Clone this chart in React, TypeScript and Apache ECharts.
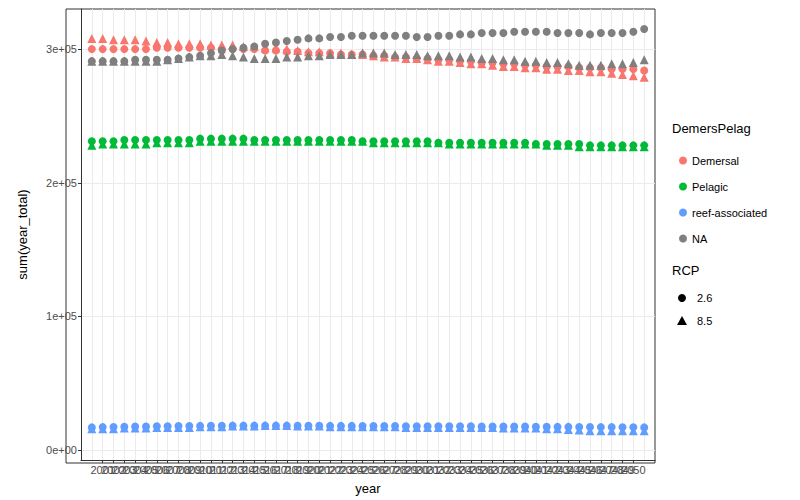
import React, { useRef, useEffect } from 'react';
import * as echarts from 'echarts';

const years: number[] = [];
for (let y = 2000; y <= 2051; y++) years.push(y);

// values in thousands
const demersal26 = [300,300,300,300,300,300,301,301,301,301, 301,301,300,300,300,300,299,299,298,298, 297,297,297,296,296,296,295,295,294,294, 293,293,292,292,291,291,290,290,289,289, 288,288,287,287,287,286,286,286,285,285, 285,284];
const demersal85 = [308,308,307,307,307,306,305,305,304,304, 304,303,303,303,302,302,301,301,300,299, 298,298,297,297,296,296,295,294,294,293, 293,292,291,291,290,289,289,288,287,287, 286,286,285,285,284,284,283,283,282,281, 280,279];
const pelagic26 = [231,231,231,232,232,232,232,232,232,232, 233,233,233,233,233,232,232,232,232,232, 232,232,232,232,232,231,231,231,231,231, 231,231,230,230,230,230,230,230,230,230, 230,229,229,229,229,229,228,228,228,228, 228,228];
const pelagic85 = [228,229,229,229,229,229,230,230,230,230, 231,231,231,231,231,231,231,231,231,231, 231,231,231,231,231,231,230,230,230,230, 230,230,230,229,229,229,229,229,229,229, 229,229,228,228,228,227,227,227,227,227, 227,227];
const reef26 = [17.0,17.2,17.3,17.5,17.6,17.7,17.8,17.9,18.0,18.0, 18.1,18.2,18.2,18.3,18.3,18.3,18.3,18.3,18.3,18.2, 18.2,18.2,18.1,18.1,18.1,18.0,18.0,18.0,18.0,17.9, 17.9,17.9,17.9,17.8,17.8,17.8,17.7,17.7,17.7,17.6, 17.6,17.5,17.5,17.4,17.4,17.3,17.3,17.2,17.2,17.1, 17.1,17.0];
const reef85 = [16,16,16,16.5,16.5,16.5,17,17,17,17, 17.5,17.5,17.5,18,18,18,18.5,18.5,18.5,18, 18,18,17.5,17.5,17.5,17.5,17.5,17.5,17.5,17, 17,17,17,17,17,17,17,17,16.5,16.5, 16.5,16.5,16,16,15.5,15,14.5,14.5,14.5,14.5, 14.5,14.5];
const na26 = [291,291,291,291,292,292,292,292,293,294, 295,297,299,300,301,302,304,305,306,307, 308,308,309,309,310,310,310,310,310,310, 309,309,310,310,311,311,312,312,312,313, 313,313,313,312,312,312,311,312,312,312, 313,315];
const na85 = [291,291,291,291,291,291,291,292,293,294, 295,295,296,295,294,293,293,293,294,294, 295,295,296,296,296,297,297,297,296,296, 296,295,295,295,294,294,293,293,292,292, 291,291,290,290,289,288,288,288,289,289, 290,292];

const groups = ['Demersal', 'Pelagic', 'reef-associated', 'NA'];
const colors = ['#F8766D', '#00BA38', '#619CFF', '#7F7F7F'];
const rcp26 = [demersal26, pelagic26, reef26, na26];
const rcp85 = [demersal85, pelagic85, reef85, na85];
const yTicks = [0, 100000, 200000, 300000];
const yTickLabels = ['0e+00', '1e+05', '2e+05', '3e+05'];

const FONT = 'Liberation Sans, Arial, sans-serif';

const App: React.FC = () => {
  const chartRef = useRef<HTMLDivElement>(null);

  useEffect(() => {
    if (!chartRef.current) return;
    const chart = echarts.init(chartRef.current, undefined, { renderer: 'svg' });
    const pts = (arr: number[]) => arr.map((v, i) => [years[i], v * 1000]);

    const series: any[] = [];
    groups.forEach((g, i) => {
      series.push({
        name: g, type: 'scatter', symbol: 'circle', symbolSize: 8,
        itemStyle: { color: colors[i], opacity: 1 }, data: pts(rcp26[i]),
      });
      series.push({
        name: g + ' 8.5', type: 'scatter', symbol: 'triangle', symbolSize: 9,
        itemStyle: { color: colors[i], opacity: 1 }, data: pts(rcp85[i]),
      });
    });

    chart.setOption({
      animation: false,
      textStyle: { fontFamily: FONT },
      grid: { left: 58, right: 145, top: 1, bottom: 37 },
      xAxis: {
        type: 'value', min: 1999, max: 2052, interval: 1,
        name: 'year', nameLocation: 'middle', nameGap: 22,
        nameTextStyle: { fontSize: 13, color: '#000' },
        axisLine: { onZero: false, lineStyle: { color: '#333' } },
        axisTick: { customValues: years, length: 3, lineStyle: { color: '#333' } },
        axisLabel: {
          customValues: years, fontSize: 11, color: '#4D4D4D', margin: 4, hideOverlap: false,
          formatter: (v: number) => String(v),
        },
        splitLine: { lineStyle: { color: '#EBEBEB' } },
      },
      yAxis: {
        type: 'value', min: -7400, max: 330000, interval: 50000,
        name: 'sum(year_total)', nameLocation: 'middle', nameGap: 52,
        nameTextStyle: { fontSize: 13, color: '#000' },
        axisLine: { show: true, lineStyle: { color: '#333' } },
        axisTick: { customValues: yTicks, length: 3, lineStyle: { color: '#333' } },
        axisLabel: {
          customValues: yTicks, fontSize: 11, color: '#4D4D4D', margin: 4,
          formatter: (v: number) => yTickLabels[yTicks.indexOf(v)] ?? '',
        },
        splitLine: { lineStyle: { color: '#EBEBEB' } },
      },
      legend: {
        data: groups, orient: 'vertical', left: 666, top: 142,
        icon: 'circle', itemWidth: 8, itemHeight: 8, itemGap: 15,
        textStyle: { fontSize: 11, color: '#000' }, selectedMode: false,
      },
      graphic: [
        { type: 'rect', shape: { x: 58, y: 1, width: 589, height: 454 }, style: { fill: 'none', stroke: '#333', lineWidth: 1 }, silent: true },
        { type: 'text', left: 664, top: 114, style: { text: 'DemersPelag', fontSize: 13, fill: '#000', fontFamily: FONT } },
        { type: 'text', left: 664, top: 256, style: { text: 'RCP', fontSize: 13, fill: '#000', fontFamily: FONT } },
        { type: 'circle', shape: { cx: 674, cy: 290, r: 4 }, style: { fill: '#000' } },
        { type: 'polygon', shape: { points: [[674, 308], [669, 317], [679, 317]] }, style: { fill: '#000' } },
        { type: 'text', left: 689, top: 284, style: { text: '2.6', fontSize: 11, fill: '#000', fontFamily: FONT } },
        { type: 'text', left: 689, top: 307, style: { text: '8.5', fontSize: 11, fill: '#000', fontFamily: FONT } },
      ],
      series,
    });
    return () => chart.dispose();
  }, []);

  return <div ref={chartRef} style={{ width: 792, height: 492 }} />;
};

export default App;
